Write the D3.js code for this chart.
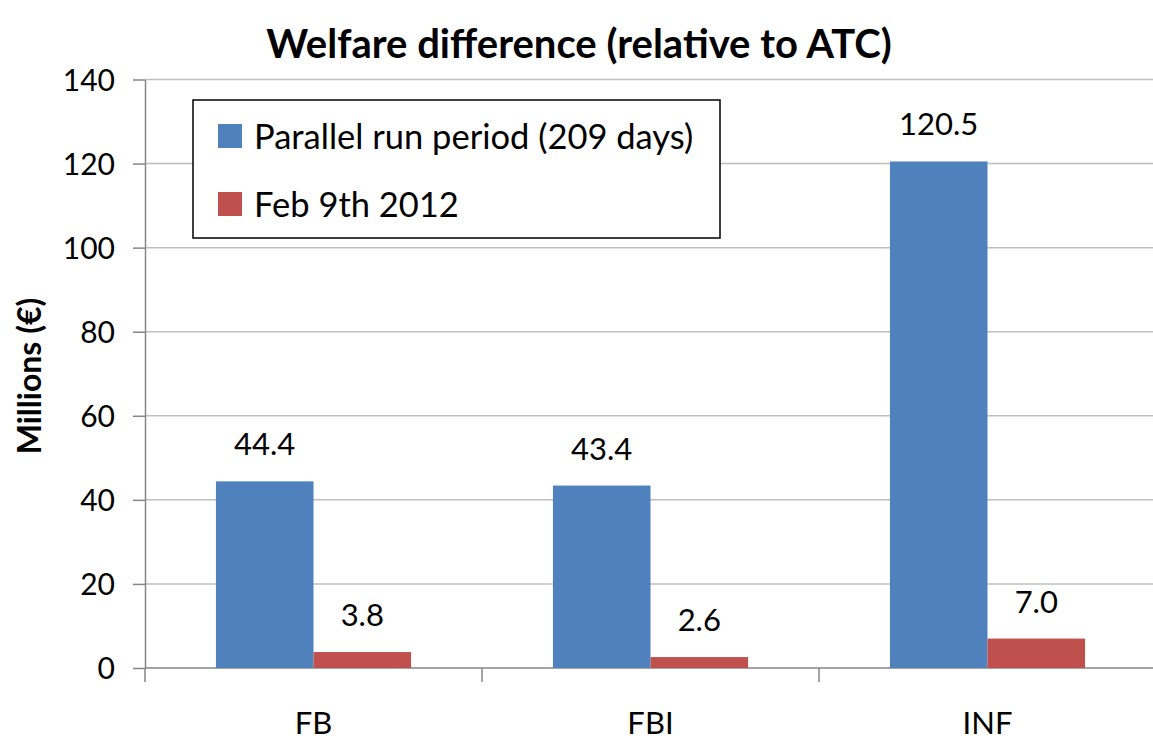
<!DOCTYPE html>
<html lang="en">
<head>
<meta charset="UTF-8">
<script src="https://d3js.org/d3.v7.min.js"></script>
<style>
    html, body { margin: 0; padding: 0; background: #fff; overflow: hidden; }
    svg text { font-family: Lato, "Open Sans", sans-serif; fill: #000; }
    .grid line { stroke: #bfbfbf; stroke-width: 1.5px; }
    .axis path, .axis line { stroke: #868686; stroke-width: 1.5px; }
</style>
</head>
<body>
<svg id="chart" width="1153" height="747"></svg>
<script>
    const categories = ["FB", "FBI", "INF"];
    const seriesNames = ["Parallel run period (209 days)", "Feb 9th 2012"];
    const parallelRun = [44.4, 43.4, 120.5];
    const feb9 = [3.8, 2.6, 7.0];
    const yTicks = [0, 20, 40, 60, 80, 100, 120, 140];
    const colors = ["#4f81bd", "#c0504d"];

    const series = [parallelRun, feb9];

    const svg = d3.select("#chart");
    const plotLeft = 145, plotRight = 1156, plotTop = 79.5, plotBottom = 668;

    const y = d3.scaleLinear().domain([0, 140]).range([plotBottom, plotTop]);
    const x = d3.scaleBand().domain(categories).range([plotLeft, plotRight])
        .paddingInner(0.421).paddingOuter(0.2105);
    const xs = d3.scaleBand().domain(d3.range(series.length)).range([0, x.bandwidth()]);

    // gridlines
    svg.append("g").attr("class", "grid")
        .selectAll("line").data(yTicks.slice(1)).join("line")
        .attr("x1", plotLeft).attr("x2", 1153)
        .attr("y1", d => y(d)).attr("y2", d => y(d));

    // y axis
    const yAxis = svg.append("g").attr("class", "axis")
        .attr("transform", `translate(${plotLeft},0)`)
        .call(d3.axisLeft(y).tickValues(yTicks).tickSize(12).tickSizeOuter(0).tickPadding(18));
    yAxis.selectAll("text").style("font-size", "30px").attr("dy", "0.36em");

    // x axis line + boundary ticks
    const xg = svg.append("g").attr("class", "axis");
    xg.append("line").attr("x1", plotLeft).attr("x2", 1153).attr("y1", y(0)).attr("y2", y(0));
    xg.selectAll("line.tk").data(categories).join("line").attr("class", "tk")
        .attr("x1", d => x(d) - x.step() * x.paddingInner() / 2)
        .attr("x2", d => x(d) - x.step() * x.paddingInner() / 2)
        .attr("y1", y(0)).attr("y2", y(0) + 14);
    svg.append("g").selectAll("text").data(categories).join("text")
        .attr("x", d => x(d) + x.bandwidth() / 2)
        .attr("y", 734)
        .attr("text-anchor", "middle")
        .style("font-size", "31px")
        .text(d => d);

    // bars
    series.forEach((vals, s) => {
        const g = svg.append("g");
        g.selectAll("rect").data(vals).join("rect")
            .attr("x", (d, i) => x(categories[i]) + xs(s))
            .attr("width", xs.bandwidth())
            .attr("y", d => y(d))
            .attr("height", d => y(0) - y(d))
            .attr("fill", colors[s]);
        g.selectAll("text").data(vals).join("text")
            .attr("x", (d, i) => x(categories[i]) + xs(s) + xs.bandwidth() / 2)
            .attr("y", d => y(d) - 26)
            .attr("text-anchor", "middle")
            .style("font-size", "31px")
            .text(d => d.toFixed(1));
    });

    // title
    svg.append("text")
        .attr("x", 579).attr("y", 58)
        .attr("text-anchor", "middle")
        .style("font-size", "40px").style("font-weight", "bold")
        .text("Welfare difference (relative to ATC)");

    // y axis title
    svg.append("text")
        .attr("transform", "translate(41,376) rotate(-90)")
        .attr("text-anchor", "middle")
        .style("font-size", "32px").style("font-weight", "bold")
        .text("Millions (€)");

    // legend
    const lg = svg.append("g");
    lg.append("rect").attr("x", 193).attr("y", 100).attr("width", 527).attr("height", 138)
        .attr("fill", "#fff").attr("stroke", "#000").attr("stroke-width", 1.5);
    seriesNames.forEach((n, i) => {
        lg.append("rect").attr("x", 218).attr("y", 124 + i * 68).attr("width", 24).attr("height", 24)
            .attr("fill", colors[i]);
        lg.append("text").attr("x", 254).attr("y", 149 + i * 68)
            .style("font-size", "34.5px").text(n);
    });
</script>
</body>
</html>
